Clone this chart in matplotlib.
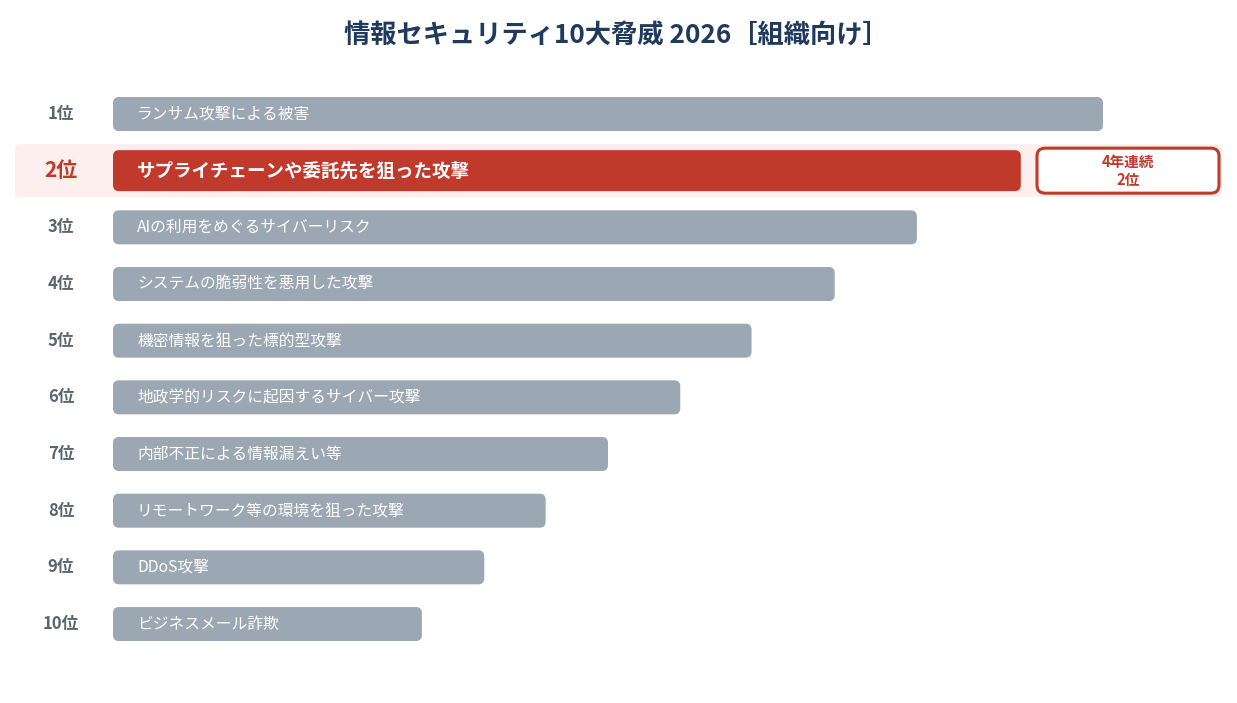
import matplotlib
matplotlib.use("Agg")
import matplotlib.pyplot as plt
from matplotlib.patches import FancyBboxPatch

FONT = ['Noto Sans CJK JP', 'DejaVu Sans']
plt.rcParams['font.family'] = FONT

title = "情報セキュリティ10大脅威 2026［組織向け］"
ranks = ["1位", "2位", "3位", "4位", "5位", "6位", "7位", "8位", "9位", "10位"]
threats = [
    "ランサム攻撃による被害",
    "サプライチェーンや委託先を狙った攻撃",
    "AIの利用をめぐるサイバーリスク",
    "システムの脆弱性を悪用した攻撃",
    "機密情報を狙った標的型攻撃",
    "地政学的リスクに起因するサイバー攻撃",
    "内部不正による情報漏えい等",
    "リモートワーク等の環境を狙った攻撃",
    "DDoS攻撃",
    "ビジネスメール詐欺",
]
scores = [100, 91.7, 81.2, 72.9, 64.5, 57.3, 50.0, 43.7, 37.5, 31.2]
highlight_index = 1
badge_text = "4年連続\n2位"

GRAY = '#9ba8b4'
RED = '#c0392b'
BAND = '#fcefed'
TITLE_C = '#1f3a5c'
RANK_C = '#5b6570'

W, H = 1237, 703
fig = plt.figure(figsize=(W / 100, H / 100), dpi=100)
ax = fig.add_axes([0, 0, 1, 1])
ax.set_axis_off()

px_x = 9.9      # pixels per score unit
px_y = 56.67    # pixels per rank row
x0_px, y0_px = 113, 114
ax.set_xlim(-x0_px / px_x, (W - x0_px) / px_x)
ax.set_ylim(1 + (H - y0_px) / px_y, 1 - y0_px / px_y)

aspect = (1 / px_y) / (1 / px_x)

def rbox(x, y, w, h, r_px, **kw):
    p = FancyBboxPatch((x, y), w, h,
                       boxstyle=f"round,pad=0,rounding_size={r_px / px_x}",
                       mutation_aspect=aspect, **kw)
    ax.add_patch(p)
    return p

# highlight band
hy = highlight_index + 1
rbox(-98 / px_x, hy - 26.5 / px_y, (1222 - 15) / px_x, 53 / px_y, 6,
     facecolor=BAND, edgecolor='none', zorder=0)

for i, (rk, name, val) in enumerate(zip(ranks, threats, scores)):
    y = i + 1
    hl = (i == highlight_index)
    h = (41 if hl else 34) / px_y
    rbox(0, y - h / 2, val, h, 6,
         facecolor=RED if hl else GRAY, edgecolor='none', zorder=2)
    ax.text(24 / px_x, y, name, ha='left', va='center',
            fontsize=13.3 if hl else 11.3, color='white',
            fontweight='bold' if hl else 'normal', zorder=3)
    ax.text(-52 / px_x, y, rk, ha='center', va='center',
            fontsize=15 if hl else 12, fontweight='bold',
            color=RED if hl else RANK_C, zorder=3)

# badge
bx0, bx1 = (1037 - x0_px) / px_x, (1219 - x0_px) / px_x
bh = 45 / px_y
rbox(bx0, hy - bh / 2, bx1 - bx0, bh, 8,
     facecolor='white', edgecolor=RED, linewidth=2.2, zorder=3)
ax.text((bx0 + bx1) / 2, hy, badge_text, ha='center', va='center',
        fontsize=10.5, fontweight='bold', color=RED, linespacing=1.15, zorder=4)

fig.text(616 / W, 1 - 35 / H, title, ha='center', va='center',
         fontsize=18.9, fontweight='bold', color=TITLE_C)

fig.savefig("out.png", dpi=100, facecolor='white')
